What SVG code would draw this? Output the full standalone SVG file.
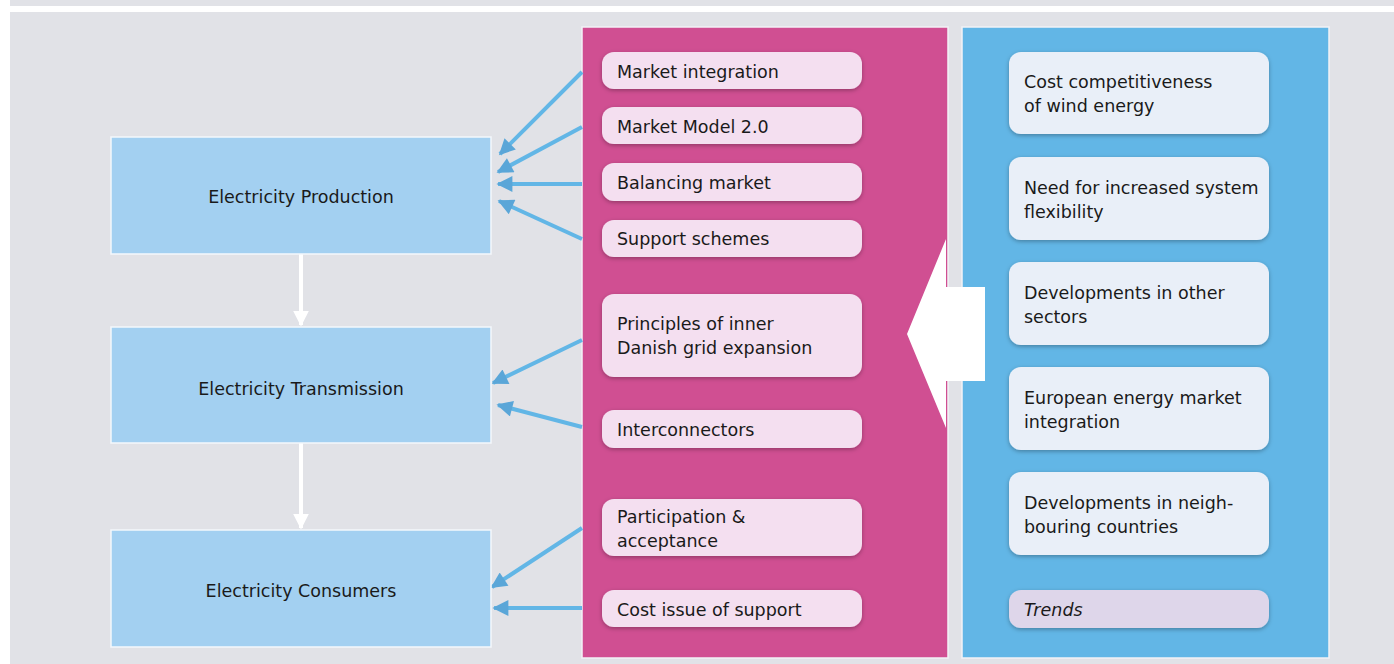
<svg xmlns="http://www.w3.org/2000/svg" width="1394" height="664" viewBox="0 0 1394 664">
<defs>
<style>
.t{font-family:"DejaVu Sans","Liberation Sans",Arial,sans-serif;font-size:17.5px;fill:#1a1a1a}
.box{fill:#a3d0f1;stroke:#f4f8fc;stroke-width:1.5}
.pk{fill:#f4dff0;filter:url(#sh)}
.bl{fill:#e9eff8;filter:url(#sh)}
.ar{stroke:#62b6e6;stroke-width:4;fill:none;marker-end:url(#ah)}
.wa{stroke:#ffffff;stroke-width:4;fill:none;marker-end:url(#wh)}
</style>
<filter id="sh" x="-10%" y="-30%" width="120%" height="160%">
<feDropShadow dx="0" dy="1.5" stdDeviation="2" flood-color="#000" flood-opacity="0.3"/>
</filter>
<marker id="ah" viewBox="0 0 10 10" refX="9" refY="5" markerWidth="4.5" markerHeight="4" orient="auto" markerUnits="strokeWidth">
<path d="M0,0 L10,5 L0,10 z" fill="#5aa6d8"/>
</marker>
<marker id="wh" viewBox="0 0 10 10" refX="9" refY="5" markerWidth="4" markerHeight="4.5" orient="auto" markerUnits="strokeWidth">
<path d="M0,0 L10,5 L0,10 z" fill="#ffffff"/>
</marker>
</defs>
<rect width="1394" height="664" fill="#ffffff"/>
<rect x="10" y="0" width="1384" height="6" fill="#e1e2e7"/>
<rect x="10" y="12" width="1384" height="652" fill="#e1e2e7"/>

<g id="panel-magenta"><rect x="582" y="27" width="366" height="631" fill="#d04f92" stroke="#f2f2f6" stroke-width="1.5"/></g>
<g id="panel-blue"><rect x="962" y="27" width="367" height="631" fill="#62b6e6" stroke="#f2f2f6" stroke-width="1.5"/></g>

<g id="big-arrow"><polygon points="985,287 946,287 946,239 907,334 946,428 946,381 985,381" fill="#ffffff"/></g>

<g id="connectors">
<line class="ar" x1="582" y1="72" x2="500" y2="154"/>
<line class="ar" x1="582" y1="127" x2="498" y2="172"/>
<line class="ar" x1="582" y1="184" x2="498" y2="184"/>
<line class="ar" x1="582" y1="239" x2="499" y2="201"/>
<line class="ar" x1="582" y1="340" x2="493" y2="383"/>
<line class="ar" x1="582" y1="427" x2="498" y2="405"/>
<line class="ar" x1="582" y1="528" x2="492" y2="587"/>
<line class="ar" x1="582" y1="608" x2="494" y2="608"/>
<line class="wa" x1="301" y1="254" x2="301" y2="325"/>
<line class="wa" x1="301" y1="443" x2="301" y2="528"/>
</g>

<g id="n-production"><rect class="box" x="111" y="137" width="380" height="117"/><text class="t" x="301" y="203" text-anchor="middle">Electricity Production</text></g>
<g id="n-transmission"><rect class="box" x="111" y="327" width="380" height="116"/><text class="t" x="301" y="395" text-anchor="middle">Electricity Transmission</text></g>
<g id="n-consumers"><rect class="box" x="111" y="530" width="380" height="117"/><text class="t" x="301" y="597" text-anchor="middle">Electricity Consumers</text></g>

<g id="p-market-integration"><rect class="pk" x="602" y="52" width="260" height="37" rx="12"/><text class="t" x="617" y="78">Market integration</text></g>
<g id="p-market-model"><rect class="pk" x="602" y="107" width="260" height="37" rx="12"/><text class="t" x="617" y="133">Market Model 2.0</text></g>
<g id="p-balancing"><rect class="pk" x="602" y="163" width="260" height="38" rx="12"/><text class="t" x="617" y="189">Balancing market</text></g>
<g id="p-support"><rect class="pk" x="602" y="220" width="260" height="37" rx="12"/><text class="t" x="617" y="245">Support schemes</text></g>
<g id="p-principles"><rect class="pk" x="602" y="294" width="260" height="83" rx="12"/><text class="t" x="617" y="330">Principles of inner</text><text class="t" x="617" y="354">Danish grid expansion</text></g>
<g id="p-interconnectors"><rect class="pk" x="602" y="410" width="260" height="38" rx="12"/><text class="t" x="617" y="436">Interconnectors</text></g>
<g id="p-participation"><rect class="pk" x="602" y="499" width="260" height="57" rx="12"/><text class="t" x="617" y="523">Participation &amp;</text><text class="t" x="617" y="547">acceptance</text></g>
<g id="p-cost-issue"><rect class="pk" x="602" y="590" width="260" height="37" rx="12"/><text class="t" x="617" y="616">Cost issue of support</text></g>

<g id="b-cost"><rect class="bl" x="1009" y="52" width="260" height="82" rx="12"/><text class="t" x="1024" y="88">Cost competitiveness</text><text class="t" x="1024" y="112">of wind energy</text></g>
<g id="b-flex"><rect class="bl" x="1009" y="157" width="260" height="83" rx="12"/><text class="t" x="1024" y="194">Need for increased system</text><text class="t" x="1024" y="218">flexibility</text></g>
<g id="b-sectors"><rect class="bl" x="1009" y="262" width="260" height="83" rx="12"/><text class="t" x="1024" y="299">Developments in other</text><text class="t" x="1024" y="323">sectors</text></g>
<g id="b-european"><rect class="bl" x="1009" y="367" width="260" height="83" rx="12"/><text class="t" x="1024" y="404">European energy market</text><text class="t" x="1024" y="428">integration</text></g>
<g id="b-neighbour"><rect class="bl" x="1009" y="472" width="260" height="83" rx="12"/><text class="t" x="1024" y="509">Developments in neigh-</text><text class="t" x="1024" y="533">bouring countries</text></g>
<g id="b-trends"><rect x="1009" y="590" width="260" height="38" rx="12" fill="#ded6ea" filter="url(#sh)"/><text class="t" x="1024" y="616" font-style="italic">Trends</text></g>
</svg>
